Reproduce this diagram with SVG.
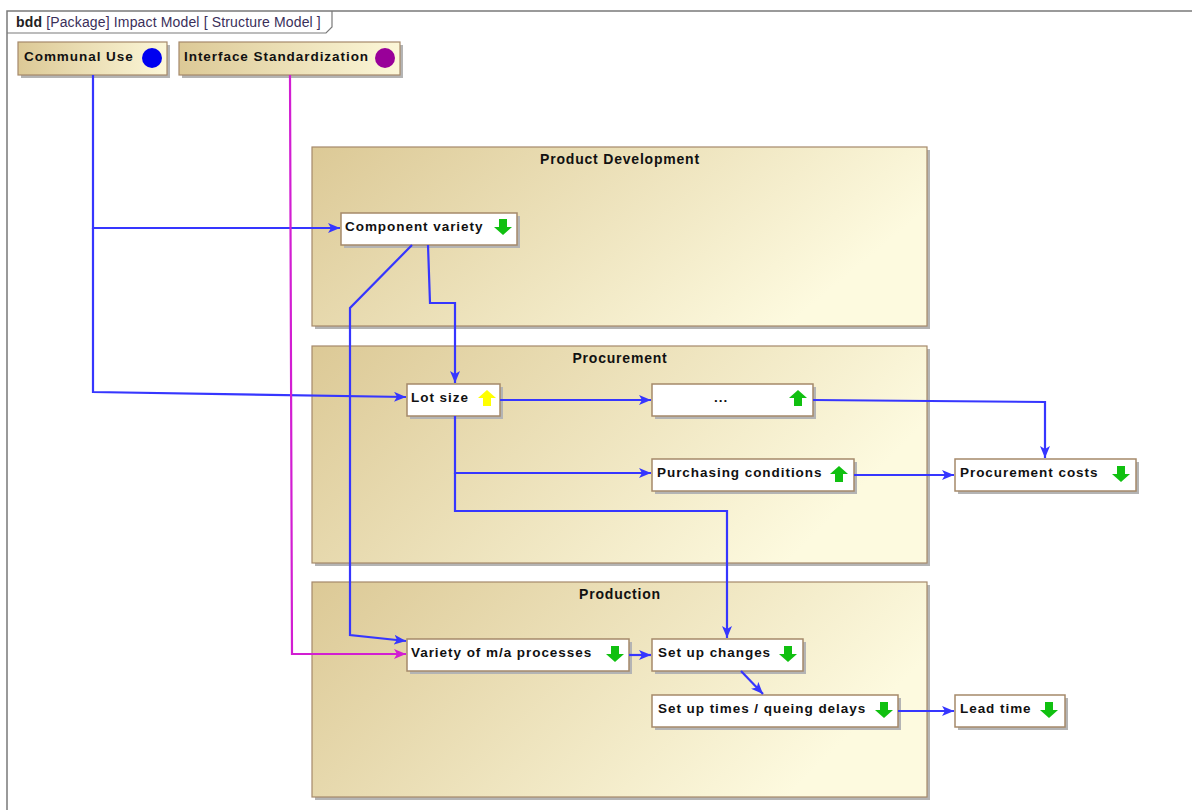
<svg xmlns="http://www.w3.org/2000/svg" width="1192" height="810" viewBox="0 0 1192 810">
<defs>
<linearGradient id="pkg" x1="0" y1="0" x2="1" y2="0.35">
<stop offset="0" stop-color="#dcc996"/>
<stop offset="1" stop-color="#fdfadf"/>
</linearGradient>
<linearGradient id="req" x1="0" y1="0" x2="1" y2="0">
<stop offset="0" stop-color="#dcc996"/>
<stop offset="1" stop-color="#fcf7d8"/>
</linearGradient>
<marker id="ab" viewBox="0 0 12 10" refX="12" refY="5" markerWidth="12" markerHeight="10" markerUnits="userSpaceOnUse" orient="auto">
<path d="M0,0 L12,5 L0,10 L3,5 Z" fill="#3636ff"/>
</marker>
<marker id="am" viewBox="0 0 12 10" refX="12" refY="5" markerWidth="12" markerHeight="10" markerUnits="userSpaceOnUse" orient="auto">
<path d="M0,0 L12,5 L0,10 L3,5 Z" fill="#d21ed2"/>
</marker>
<path id="dn" d="M-4,-8 H4 V0 H9 L0,8 L-9,0 H-4 Z"/>
<path id="up" d="M-4,8 H4 V0 H9 L0,-8 L-9,0 H-4 Z"/>
</defs>
<style>
.pk{fill:url(#pkg);stroke:#a5896a;stroke-width:1.2}
.sh{fill:#b4b4b4}
.nd{fill:#ffffff;stroke:#a5896a;stroke-width:1.5}
.rq{fill:url(#req);stroke:#a5896a;stroke-width:1.2}
.t{font-family:"Liberation Sans",Arial,sans-serif;font-weight:bold;font-size:13.5px;fill:#111111;letter-spacing:0.95px}
.pt{font-family:"Liberation Sans",Arial,sans-serif;font-weight:bold;font-size:14px;fill:#111111;text-anchor:middle;letter-spacing:0.8px}
.c{fill:none;stroke:#3636ff;stroke-width:2.2}
.m{fill:none;stroke:#d21ed2;stroke-width:2.2}
.g{fill:#10c010}
.y{fill:#ffff00}
</style>
<g id="frame">
<path d="M7,810 V11 H1192" fill="none" stroke="#7a7a7a" stroke-width="1.5"/>
<path d="M7,33 H326 L332,27 V11" fill="none" stroke="#7a7a7a" stroke-width="1.2"/>
<text x="16" y="27" font-family="Liberation Sans,Arial,sans-serif" font-size="14px" letter-spacing="0.15" fill="#222"><tspan font-weight="bold">bdd</tspan><tspan fill="#3a2f5a"> [Package] Impact Model [ Structure Model ]</tspan></text>
</g>
<g id="pkg-product-development">
<rect class="sh" x="315" y="150" width="615" height="179"/>
<rect class="pk" x="312" y="147" width="615" height="179"/>
<text class="pt" x="620" y="164">Product Development</text>
</g>
<g id="pkg-procurement">
<rect class="sh" x="315" y="349" width="615" height="217"/>
<rect class="pk" x="312" y="346" width="615" height="217"/>
<text class="pt" x="620" y="363">Procurement</text>
</g>
<g id="pkg-production">
<rect class="sh" x="315" y="585" width="615" height="215"/>
<rect class="pk" x="312" y="582" width="615" height="215"/>
<text class="pt" x="620" y="599">Production</text>
</g>
<g id="communal-use">
<rect class="sh" x="21" y="45" width="149" height="33"/>
<rect class="rq" x="18" y="42" width="149" height="33"/>
<text class="t" x="24" y="61">Communal Use</text>
<circle cx="152" cy="58" r="10" fill="#0000f0"/>
</g>
<g id="interface-standardization">
<rect class="sh" x="182" y="45" width="221" height="33"/>
<rect class="rq" x="179" y="42" width="221" height="33"/>
<text class="t" x="184" y="61">Interface Standardization</text>
<circle cx="385" cy="58" r="10" fill="#990099"/>
</g>
<g id="component-variety">
<rect class="sh" x="344" y="216" width="176" height="32"/>
<rect class="nd" x="341" y="213" width="176" height="32"/>
<text class="t" x="345" y="231">Component variety</text>
<use href="#dn" class="g" x="503" y="227"/>
</g>
<g id="lot-size">
<rect class="sh" x="410" y="387" width="93" height="32"/>
<rect class="nd" x="407" y="384" width="93" height="32"/>
<text class="t" x="411" y="402">Lot size</text>
<use href="#up" class="y" x="487" y="398"/>
</g>
<g id="ellipsis">
<rect class="sh" x="655" y="387" width="161" height="32"/>
<rect class="nd" x="652" y="384" width="161" height="32"/>
<text class="t" x="714" y="402">...</text>
<use href="#up" class="g" x="798" y="398"/>
</g>
<g id="purchasing-conditions">
<rect class="sh" x="655" y="462" width="202" height="32"/>
<rect class="nd" x="652" y="459" width="202" height="32"/>
<text class="t" x="657" y="477">Purchasing conditions</text>
<use href="#up" class="g" x="839" y="474"/>
</g>
<g id="procurement-costs">
<rect class="sh" x="958" y="462" width="181" height="32"/>
<rect class="nd" x="955" y="459" width="181" height="32"/>
<text class="t" x="960" y="477">Procurement costs</text>
<use href="#dn" class="g" x="1121" y="474"/>
</g>
<g id="variety-ma-processes">
<rect class="sh" x="410" y="642" width="222" height="32"/>
<rect class="nd" x="407" y="639" width="222" height="32"/>
<text class="t" x="411" y="657">Variety of m/a processes</text>
<use href="#dn" class="g" x="615" y="654"/>
</g>
<g id="set-up-changes">
<rect class="sh" x="655" y="642" width="151" height="32"/>
<rect class="nd" x="652" y="639" width="151" height="32"/>
<text class="t" x="658" y="657">Set up changes</text>
<use href="#dn" class="g" x="788" y="654"/>
</g>
<g id="set-up-times">
<rect class="sh" x="655" y="698" width="246" height="32"/>
<rect class="nd" x="652" y="695" width="246" height="32"/>
<text class="t" x="658" y="713">Set up times / queing delays</text>
<use href="#dn" class="g" x="884" y="710"/>
</g>
<g id="lead-time">
<rect class="sh" x="958" y="698" width="110" height="32"/>
<rect class="nd" x="955" y="695" width="110" height="32"/>
<text class="t" x="960" y="713">Lead time</text>
<use href="#dn" class="g" x="1049" y="710"/>
</g>
<g id="connectors">
<path class="c" d="M93,75 V228 H340" marker-end="url(#ab)"/>
<path class="c" d="M93,228 V392 L406,397" marker-end="url(#ab)"/>
<path class="m" d="M290,75 L292,654 H406" marker-end="url(#am)"/>
<path class="c" d="M412,245 L350,308 V635 L406,641" marker-end="url(#ab)"/>
<path class="c" d="M428,245 L430,303 H455 V383" marker-end="url(#ab)"/>
<path class="c" d="M500,400 H651" marker-end="url(#ab)"/>
<path class="c" d="M455,416 V473 H651" marker-end="url(#ab)"/>
<path class="c" d="M455,473 V511 H727 V638" marker-end="url(#ab)"/>
<path class="c" d="M813,400 L1045,402 V458" marker-end="url(#ab)"/>
<path class="c" d="M854,475 H954" marker-end="url(#ab)"/>
<path class="c" d="M629,655 H651" marker-end="url(#ab)"/>
<path class="c" d="M741,671 L763,694" marker-end="url(#ab)"/>
<path class="c" d="M898,711 H954" marker-end="url(#ab)"/>
</g>
</svg>
